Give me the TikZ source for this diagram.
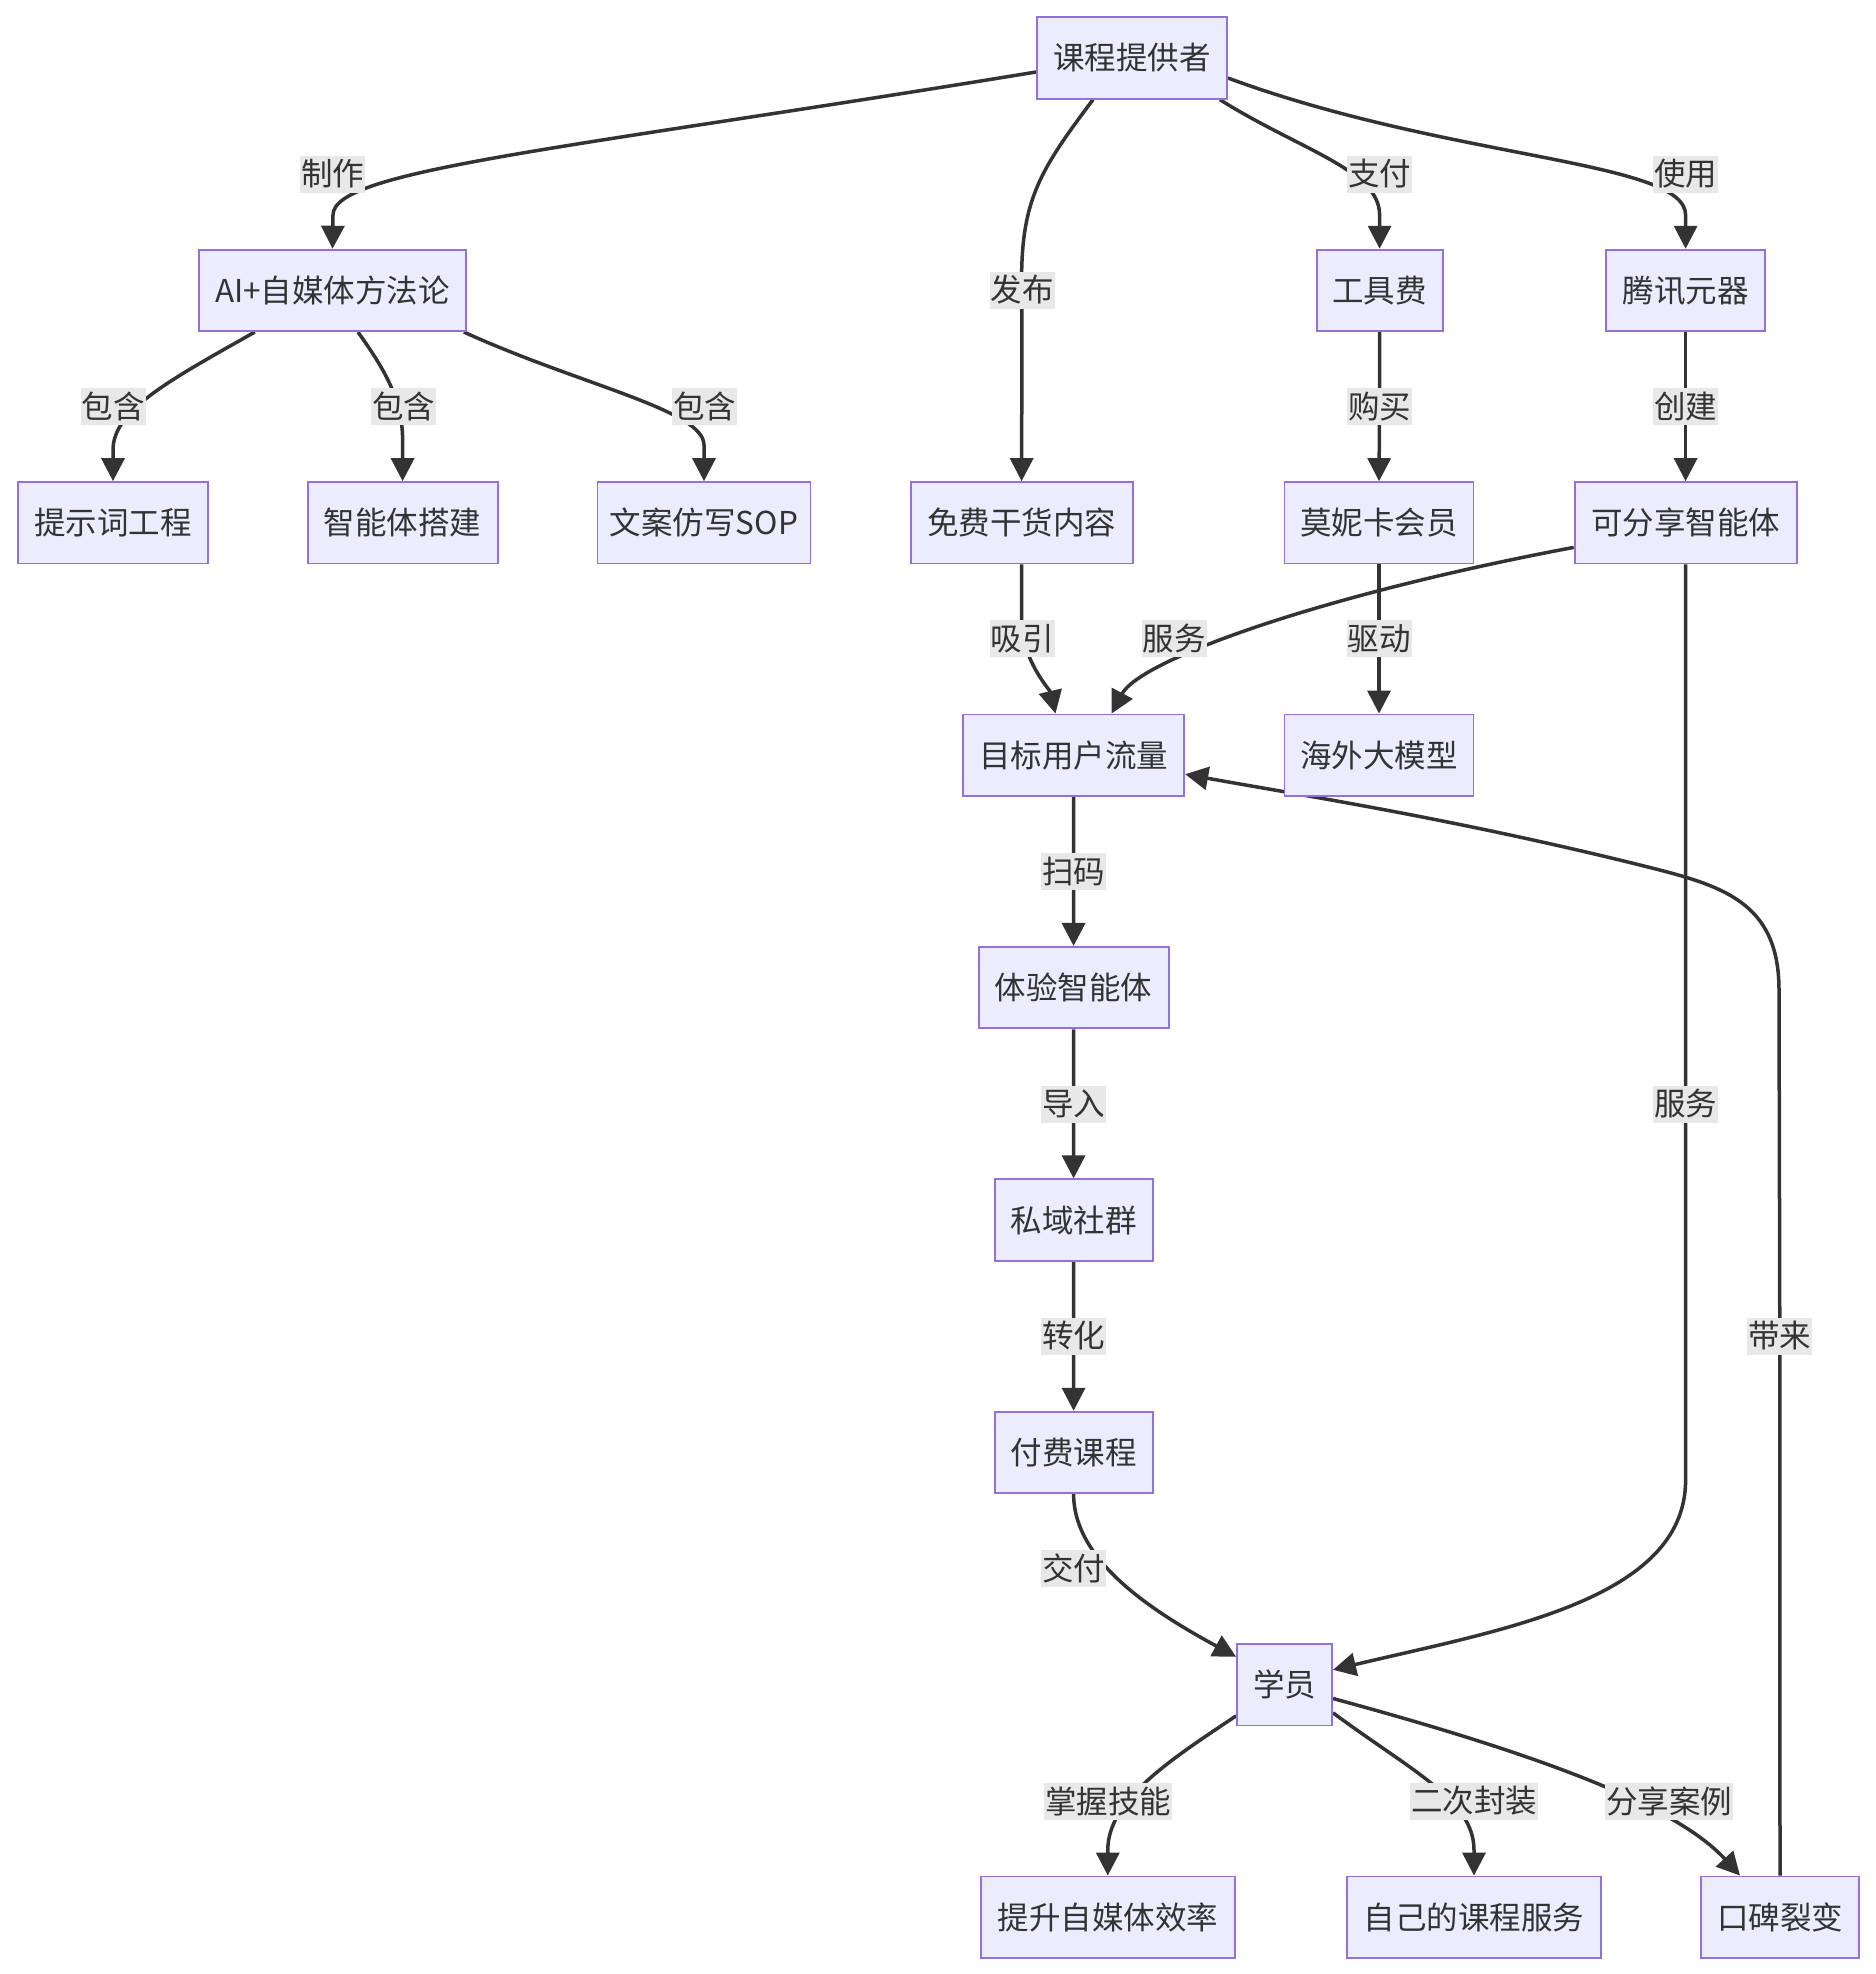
\documentclass[tikz,border=0pt]{standalone}
\usepackage{fontspec}
\setmainfont{Noto Sans CJK SC}
\usetikzlibrary{arrows.meta}
\definecolor{nodefill}{HTML}{ECECFF}
\definecolor{nodeline}{HTML}{9370DB}
\definecolor{edgecol}{HTML}{333333}
\definecolor{lblfill}{HTML}{E8E8E8}
\pgfdeclarelayer{bglayer}
\pgfdeclarelayer{edgelayer}
\pgfsetlayers{bglayer,edgelayer,main}
\tikzset{
  box/.style={draw=nodeline, fill=nodefill, line width=1.8pt, minimum height=81.5pt,
    inner sep=0pt, text=edgecol, font=\fontsize{31.5}{36}\selectfont},
  lbl/.style={fill=lblfill, inner xsep=1pt, inner ysep=0pt, minimum height=37pt,
    text=edgecol, font=\fontsize{31.5}{36}\selectfont},
  edge/.style={draw=edgecol, line width=3.5pt, -{Triangle[length=23pt,width=23pt]}},
  plainedge/.style={draw=edgecol, line width=3.5pt}
}
\begin{document}
\begin{tikzpicture}[x=1pt,y=1pt]
\useasboundingbox (0,0) rectangle (1876,-1974);
\begin{pgfonlayer}{bglayer}
\fill[white] (0,0) rectangle (1876,-1974);
\end{pgfonlayer}

% nodes
\node[box, minimum width=190pt] (P) at (1132,-58) {课程提供者};
\node[box, minimum width=267pt] (AI) at (332.5,-290.4) {AI+自媒体方法论};
\node[box, minimum width=126pt] (T) at (1379.6,-290.4) {工具费};
\node[box, minimum width=159pt] (Y) at (1685.6,-290.4) {腾讯元器};
\node[box, minimum width=190pt] (TS) at (113,-522.8) {提示词工程};
\node[box, minimum width=190pt] (ZN) at (402.6,-522.8) {智能体搭建};
\node[box, minimum width=213pt] (WA) at (704,-522.8) {文案仿写SOP};
\node[box, minimum width=222pt] (F) at (1021.6,-522.8) {免费干货内容};
\node[box, minimum width=189pt] (Mo) at (1379,-522.8) {莫妮卡会员};
\node[box, minimum width=222pt] (K) at (1685.6,-522.8) {可分享智能体};
\node[box, minimum width=221.5pt] (M) at (1073.5,-755.2) {目标用户流量};
\node[box, minimum width=189pt] (H) at (1379,-755.2) {海外大模型};
\node[box, minimum width=190pt] (E) at (1073.6,-987.6) {体验智能体};
\node[box, minimum width=158pt] (S) at (1073.6,-1220) {私域社群};
\node[box, minimum width=158pt] (Pay) at (1073.6,-1452.4) {付费课程};
\node[box, minimum width=95pt] (St) at (1284.6,-1684.8) {学员};
\node[box, minimum width=254pt] (Up) at (1107.8,-1917.2) {提升自媒体效率};
\node[box, minimum width=254.5pt] (Own) at (1474,-1917.2) {自己的课程服务};
\node[box, minimum width=158pt] (Ko) at (1780,-1917.2) {口碑裂变};

% labels
\node[lbl] (l1) at (332.5,-174) {制作};
\node[lbl] (l2) at (1022,-290) {发布};
\node[lbl] (l3) at (1379.6,-174) {支付};
\node[lbl] (l4) at (1685.6,-174) {使用};
\node[lbl] (l5) at (113,-406.5) {包含};
\node[lbl] (l6) at (403.6,-406.5) {包含};
\node[lbl] (l7) at (704.6,-406.5) {包含};
\node[lbl] (l8) at (1379.6,-406.5) {购买};
\node[lbl] (l9) at (1685.6,-406.5) {创建};
\node[lbl] (l10) at (1022,-638.7) {吸引};
\node[lbl] (l11) at (1174.4,-638.7) {服务};
\node[lbl] (l12) at (1379,-638.7) {驱动};
\node[lbl] (l13) at (1073.5,-871.6) {扫码};
\node[lbl] (l14) at (1073.5,-1104) {导入};
\node[lbl] (l15) at (1685.6,-1104) {服务};
\node[lbl] (l16) at (1073.5,-1336) {转化};
\node[lbl] (l17) at (1779.8,-1336) {带来};
\node[lbl] (l18) at (1073.5,-1568) {交付};
\node[lbl] (l19) at (1108,-1801) {掌握技能};
\node[lbl] (l20) at (1474,-1801) {二次封装};
\node[lbl] (l21) at (1669,-1801) {分享案例};

\begin{pgfonlayer}{edgelayer}
% from course provider
\draw[edge] ([yshift=-14pt]P.west) .. controls (560,-150) and (333,-170) .. (333,-215) -- (AI.north);
\draw[edge] ([xshift=-39pt]P.south) .. controls (1040,-170) and (1021.6,-200) .. (1021.6,-280) -- (l2.center) -- (F.north);
\draw[edge] ([xshift=-8pt]P.south east) .. controls (1300,-150) and (1379.6,-170) .. (1379.6,-215) -- (T.north);
\draw[edge] ([yshift=-20pt]P.east) .. controls (1450,-160) and (1685.6,-160) .. (1685.6,-215) -- (Y.north);
% methodology contains
\draw[edge] ([xshift=-77.7pt]AI.south) .. controls (170,-380) and (113,-410) .. (113,-450) -- (TS.north);
\draw[edge] ([xshift=25.5pt]AI.south) .. controls (385,-370) and (402.6,-400) .. (402.6,-440) -- (ZN.north);
\draw[edge] ([xshift=-3pt]AI.south east) .. controls (580,-385) and (704,-410) .. (704,-445) -- (WA.north);
% tools
\draw[edge] (T.south) -- (l8.center) -- (Mo.north);
\draw[edge] (Y.south) -- (l9.center) -- (K.north);
\draw[edge] (Mo.south) -- (l12.center) -- (H.north);
% traffic
\draw[edge] (F.south) -- (1021.6,-620) .. controls (1021.6,-660) and (1050,-690) .. ([xshift=-18pt]M.north);
\draw[edge] ([yshift=-24.6pt]K.west) .. controls (1320,-595) and (1140,-660) .. ([xshift=38pt]M.north);
\draw[edge] (M.south) -- (l13.center) -- (E.north);
\draw[edge] (E.south) -- (l14.center) -- (S.north);
\draw[edge] (S.south) -- (l16.center) -- (Pay.north);
\draw[edge] (Pay.south) .. controls (1073.6,-1560) and (1150,-1610) .. ([yshift=28pt]St.west);
\draw[edge] (K.south) -- (l15.center) -- (1685.6,-1480) .. controls (1685.6,-1600) and (1500,-1630) .. ([yshift=15pt]St.east);
% student outcomes
\draw[edge] ([yshift=-31pt]St.west) .. controls (1170,-1760) and (1107.8,-1800) .. (1107.8,-1850) -- (Up.north);
\draw[edge] ([yshift=-28pt]St.east) .. controls (1410,-1770) and (1474,-1800) .. (1474,-1850) -- (Own.north);
\draw[edge] ([yshift=-13.7pt]St.east) .. controls (1560,-1760) and (1680,-1810) .. ([xshift=-40pt]Ko.north);
% word of mouth back to traffic
\draw[edge] (Ko.north) -- (l17.center) -- (1779,-990) .. controls (1779,-900) and (1720,-885) .. (1640,-865)
   .. controls (1450,-818) and (1300,-795) .. ([yshift=-19pt]M.east);
\end{pgfonlayer}
\end{tikzpicture}
\end{document}
